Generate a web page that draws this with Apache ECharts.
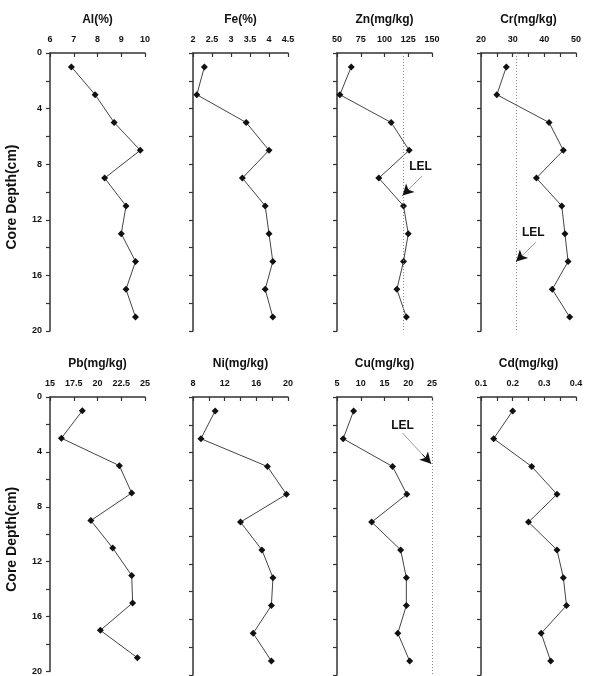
<!DOCTYPE html>
<html>
<head>
<meta charset="utf-8">
<script src="https://cdn.jsdelivr.net/npm/echarts@6/dist/echarts.min.js"></script>
<style>
  html, body { margin: 0; padding: 0; background: #fff; }
  #chart { width: 589px; height: 676px; }
</style>
</head>
<body>
<div id="chart"></div>
<script>
// sampling depths (cm)
const depth = [1, 3, 5, 7, 9, 11, 13, 15, 17, 19]

// element concentrations
const al = [6.9, 7.9, 8.7, 9.8, 8.3, 9.2, 9.0, 9.6, 9.2, 9.6]
const fe = [2.3, 2.1, 3.4, 4.0, 3.3, 3.9, 4.0, 4.1, 3.9, 4.1]
const zn = [65, 53, 107, 126, 94, 120, 125, 120, 113, 123]
const cr = [28, 25, 41.5, 46, 37.5, 45.5, 46.5, 47.5, 42.5, 48]
const pb = [18.4, 16.2, 22.3, 23.6, 19.3, 21.6, 23.6, 23.7, 20.3, 24.2]
const ni = [10.8, 9.0, 17.4, 19.8, 14.0, 16.7, 18.1, 17.9, 15.6, 17.9]
const cu = [8.5, 6.3, 16.7, 19.7, 12.3, 18.4, 19.6, 19.6, 17.8, 20.3]
const cd = [0.20, 0.14, 0.26, 0.34, 0.25, 0.34, 0.36, 0.37, 0.29, 0.32]

// panel axes
const titles = ['Al(%)', 'Fe(%)', 'Zn(mg/kg)', 'Cr(mg/kg)', 'Pb(mg/kg)', 'Ni(mg/kg)', 'Cu(mg/kg)', 'Cd(mg/kg)']
const xMin = [6, 2, 50, 20, 15, 8, 5, 0.1]
const xMax = [10, 4.5, 150, 50, 25, 20, 25, 0.4]
const xStep = [1, 0.5, 25, 5, 2.5, 2, 5, 0.05]
const labelEvery = [1, 1, 1, 2, 1, 2, 1, 2]
const depthTicks = [0, 4, 8, 12, 16, 20]

// lowest effect level lines
const lelValue = { 2: 120, 3: 31, 6: 25 }

const values = [al, fe, zn, cr, pb, ni, cu, cd]

// LEL label / arrow placement in data units: [text, tail, head]
const lelNotes = {
  2: { text: [138, 8.2], tail: [139.6, 8.85], head: [119, 10.25] },
  3: { text: [36.5, 12.9], tail: [37.4, 13.6], head: [31.1, 15.0] },
  6: { text: [18.8, 2.05], tail: [18.8, 2.6], head: [24.8, 4.8] }
}

const font = 'Liberation Sans, Arial, sans-serif'
const colLeft = [50, 193, 337, 481]
const rowTop = [53, 397]

const chart = echarts.init(document.getElementById('chart'))

const grids = [], xAxes = [], yAxes = [], series = []
values.forEach((vals, i) => {
  const col = i % 4
  const row = Math.floor(i / 4)
  grids.push({ left: colLeft[col], top: rowTop[row], width: 95, height: 278 })
  xAxes.push({
    gridIndex: i,
    type: 'value',
    position: 'top',
    min: xMin[i],
    max: xMax[i],
    interval: xStep[i],
    name: titles[i],
    nameLocation: 'middle',
    nameGap: 27,
    nameTextStyle: { fontFamily: font, fontWeight: 'bold', fontSize: 12, color: '#111' },
    axisLine: { show: true, onZero: false, lineStyle: { color: '#333', width: 1.5 } },
    axisTick: { show: true, inside: true, length: 4, lineStyle: { color: '#333', width: 1.2 } },
    axisLabel: {
      margin: 9,
      fontFamily: font,
      fontWeight: 'bold',
      fontSize: 9,
      color: '#111',
      showMinLabel: true,
      showMaxLabel: true,
      formatter: v => {
        const k = Math.round((v - xMin[i]) / xStep[i])
        return k % labelEvery[i] === 0 ? String(parseFloat(v.toFixed(3))) : ''
      }
    },
    splitLine: { show: false }
  })
  yAxes.push({
    gridIndex: i,
    type: 'value',
    inverse: true,
    min: 0,
    max: 20,
    interval: 2,
    name: col === 0 ? 'Core Depth(cm)' : '',
    nameLocation: 'middle',
    nameGap: 31,
    nameRotate: 90,
    nameTextStyle: { fontFamily: font, fontWeight: 'bold', fontSize: 14, color: '#111', padding: [0, 10, 0, 0] },
    axisLine: { show: true, onZero: false, lineStyle: { color: '#333', width: 1.5 } },
    axisTick: { show: true, inside: false, length: 4, lineStyle: { color: '#333', width: 1.2 } },
    axisLabel: {
      show: col === 0,
      margin: 8,
      fontFamily: font,
      fontWeight: 'bold',
      fontSize: 9,
      color: '#111',
      formatter: v => (depthTicks.indexOf(v) >= 0 ? String(v) : '')
    },
    splitLine: { show: false }
  })

  const s = {
    type: 'line',
    xAxisIndex: i,
    yAxisIndex: i,
    data: vals.map((v, j) => [v, depth[j]]),
    symbol: 'diamond',
    symbolSize: 7,
    itemStyle: { color: '#111' },
    lineStyle: { color: '#444', width: 1 },
    animation: false
  }

  if (lelValue[i] !== undefined) {
    const note = lelNotes[i]
    const near = [
      note.tail[0] + (note.head[0] - note.tail[0]) * 0.7,
      note.tail[1] + (note.head[1] - note.tail[1]) * 0.7
    ]
    s.markLine = {
      silent: true,
      animation: false,
      symbol: 'none',
      label: { show: false },
      data: [
        { xAxis: lelValue[i], lineStyle: { type: [1, 2], color: '#888', width: 1 } },
        [
          { coord: note.tail, symbol: 'none', lineStyle: { type: 'solid', color: '#999', width: 1 } },
          { coord: note.head, symbol: 'none' }
        ],
        [
          { coord: near, symbol: 'none', lineStyle: { type: 'solid', color: '#111', width: 1 } },
          { coord: note.head, symbol: 'arrow', symbolSize: [9, 11] }
        ]
      ]
    }
    s.markPoint = {
      silent: true,
      animation: false,
      symbol: 'rect',
      symbolSize: 1,
      itemStyle: { color: 'rgba(0,0,0,0)' },
      label: {
        show: true,
        position: 'inside',
        formatter: 'LEL',
        fontFamily: font,
        fontWeight: 'bold',
        fontSize: 12,
        color: '#111'
      },
      data: [{ coord: note.text }]
    }
  }
  series.push(s)
})

chart.setOption({
  backgroundColor: '#fff',
  animation: false,
  grid: grids,
  xAxis: xAxes,
  yAxis: yAxes,
  series: series
})
</script>
</body>
</html>
